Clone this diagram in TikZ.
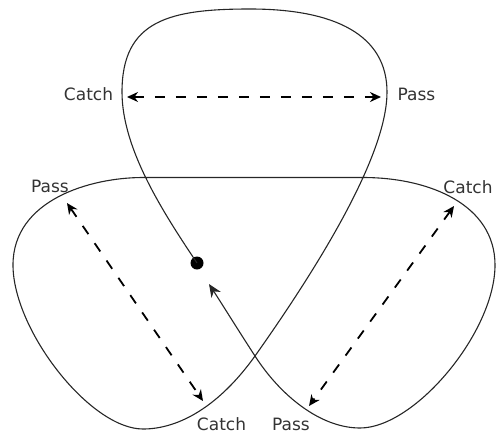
\documentclass[tikz,border=0pt]{standalone}
\usepackage{fontspec}
\setmainfont{DejaVu Sans}
\usetikzlibrary{arrows.meta}
\begin{document}
\begin{tikzpicture}[x=1pt,y=-1pt,
  curve/.style={line width=1.1pt, draw=black!85},
  dasharrow/.style={line width=1.8pt, dash pattern=on 10pt off 11pt,
    {Stealth[length=11pt,width=10pt]}-{Stealth[length=11pt,width=10pt]}},
  lbl/.style={anchor=base, inner sep=0pt, font=\fontsize{17}{20}\selectfont, text=black!80}]
\useasboundingbox (0,0) rectangle (497,434);

\node[circle, fill=black, inner sep=0pt, minimum size=13pt] (dot) at (197,263) {};
\coordinate (tip) at (209,284);
\coordinate (lx) at (122,92);
\coordinate (top) at (250,9);
\coordinate (rx) at (387,92);
\coordinate (cross) at (255,356);
\coordinate (lb) at (143,429);
\coordinate (ll) at (13,265);
\coordinate (hl) at (143,177.5);
\coordinate (hr) at (363,177.5);
\coordinate (rr) at (495,265);
\coordinate (rb) at (360,428);

\draw[curve, -{Stealth[length=13pt,width=11pt]}]
  (dot.center) .. controls (165,215) and (122,150) .. (lx)
  .. controls (122,20) and (170,9) .. (top)
  .. controls (335,9) and (387,35) .. (rx)
  .. controls (387,150) and (330,250) .. (cross)
  .. controls (220,405) and (180,429) .. (lb)
  .. controls (90,429) and (13,330) .. (ll)
  .. controls (13,200) and (90,177.5) .. (hl)
  -- (hr)
  .. controls (430,177.5) and (495,205) .. (rr)
  .. controls (495,332) and (415,428) .. (rb)
  .. controls (320,428) and (280,395) .. (cross)
  .. controls (240,333) and (222,304) .. (tip);

\node[lbl] (c1) at (88.5,100) {Catch};
\node[lbl] (p1) at (416.5,100) {Pass};
\node[lbl] (p2) at (50,192) {Pass};
\node[lbl] (c2) at (468,193) {Catch};
\node[lbl] (c3) at (221.5,430) {Catch};
\node[lbl] (p3) at (291,430) {Pass};

\coordinate (a1) at (127,97);
\coordinate (b1) at (381,97);
\coordinate (a2) at (67,203);
\coordinate (b2) at (203,401);
\coordinate (a3) at (454,206);
\coordinate (b3) at (309,406);

\draw[dasharrow] (a1) -- (b1);
\draw[dasharrow] (a2) -- (b2);
\draw[dasharrow] (a3) -- (b3);
\end{tikzpicture}
\end{document}
